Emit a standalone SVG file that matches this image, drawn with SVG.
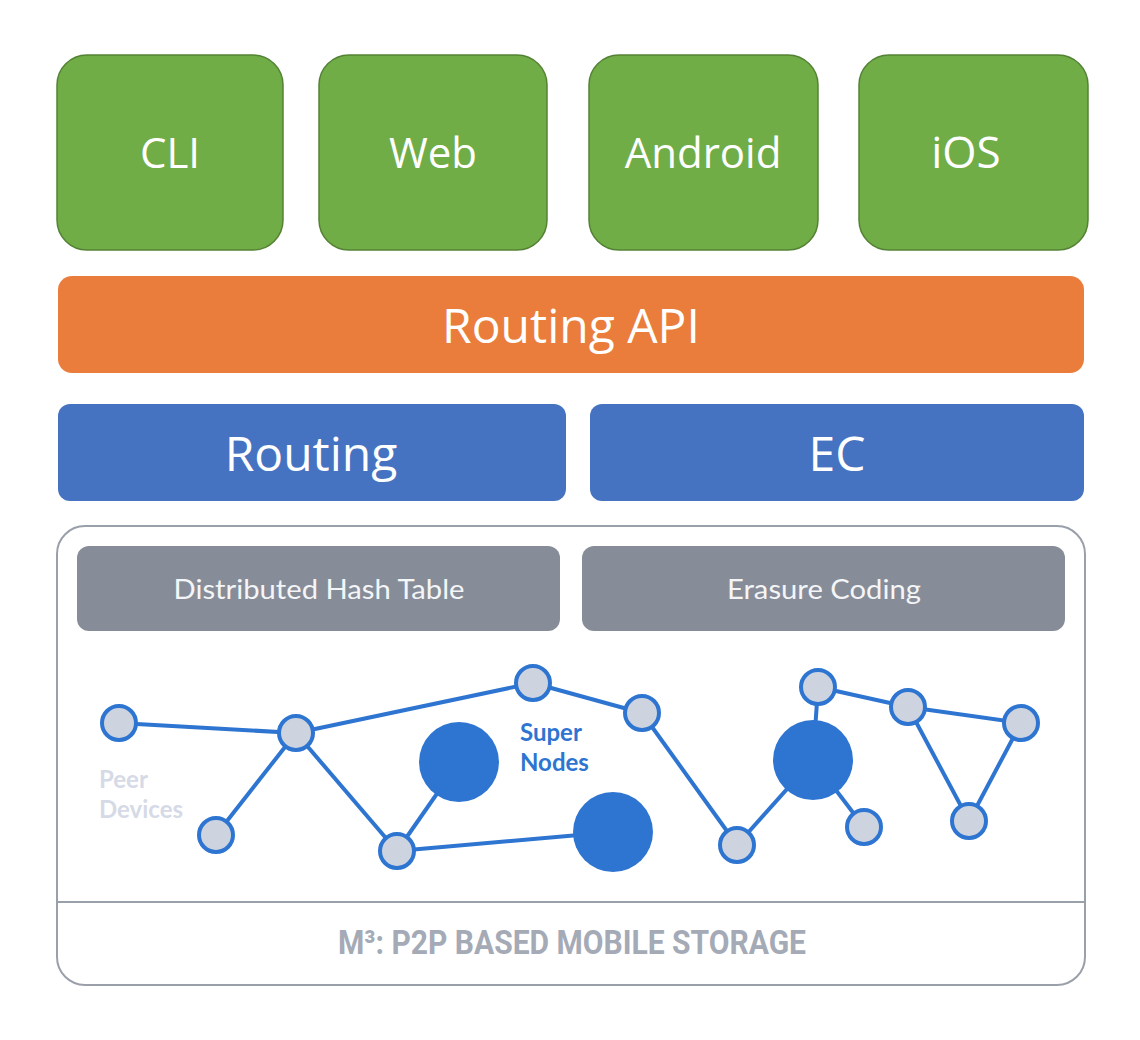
<svg xmlns="http://www.w3.org/2000/svg" width="1140" height="1040" viewBox="0 0 1140 1040">
<style>
.app{fill:#70AD47;stroke:#548235;stroke-width:1.5}
.big{font-family:"Open Sans","Noto Sans",sans-serif;fill:#fff;text-anchor:middle}
.gray{fill:#878D98}
.gt{font-family:"Lato","Noto Sans",sans-serif;font-size:27px;fill:#F4F5F7;text-anchor:middle}
.edge{stroke:#2E75D1;stroke-width:4;fill:none}
.peer{fill:#CED4DF;stroke:#2E75D1;stroke-width:4}
.sup{fill:#2E75D1}
.foot{font-family:Roboto,sans-serif;font-weight:bold;fill:#A4AAB6}
</style>
<rect width="1140" height="1040" fill="#fff"/>
<g id="cli"><rect class="app" x="57" y="55" width="226" height="195" rx="30"/><text class="big" x="170" y="168" font-size="42">CLI</text></g>
<g id="web"><rect class="app" x="319" y="55" width="228" height="195" rx="30"/><text class="big" x="433" y="168" font-size="42">Web</text></g>
<g id="android"><rect class="app" x="589" y="55" width="229" height="195" rx="30"/><text class="big" x="703" y="168" font-size="42">Android</text></g>
<g id="ios"><rect class="app" x="859" y="55" width="229" height="195" rx="30"/><text class="big" x="966" y="168" font-size="44">iOS</text></g>
<g id="routing-api"><rect x="58" y="276" width="1026" height="97" rx="14" fill="#EA7D3C"/><text class="big" x="571" y="343" font-size="48">Routing API</text></g>
<g id="routing"><rect x="58" y="404" width="508" height="97" rx="12" fill="#4673C1"/><text class="big" x="311" y="471" font-size="48">Routing</text></g>
<g id="ec"><rect x="590" y="404" width="494" height="97" rx="12" fill="#4673C1"/><text class="big" x="837" y="471" font-size="48">EC</text></g>
<g id="storage">
<rect x="57" y="526" width="1028" height="459" rx="28" fill="#fff" stroke="#9AA0AA" stroke-width="2"/>
<line x1="57" y1="902" x2="1085" y2="902" stroke="#9AA0AA" stroke-width="2"/>
<text class="foot" x="338" y="954" font-size="34" textLength="468" lengthAdjust="spacingAndGlyphs">M³: P2P BASED MOBILE STORAGE</text>
</g>
<g id="dht"><rect class="gray" x="77" y="546" width="483" height="85" rx="12"/><text class="gt" x="319" y="599" textLength="291" lengthAdjust="spacingAndGlyphs">Distributed Hash Table</text></g>
<g id="erasure"><rect class="gray" x="582" y="546" width="483" height="85" rx="12"/><text class="gt" x="824" y="599" textLength="194" lengthAdjust="spacingAndGlyphs">Erasure Coding</text></g>
<g id="connectors">
<line class="edge" x1="119" y1="723" x2="296" y2="733"/>
<line class="edge" x1="296" y1="733" x2="533" y2="683"/>
<line class="edge" x1="296" y1="733" x2="216" y2="835"/>
<line class="edge" x1="296" y1="733" x2="397" y2="851"/>
<line class="edge" x1="397" y1="851" x2="459" y2="762"/>
<line class="edge" x1="397" y1="851" x2="613" y2="832"/>
<line class="edge" x1="533" y1="683" x2="642" y2="713"/>
<line class="edge" x1="642" y1="713" x2="737" y2="845"/>
<line class="edge" x1="737" y1="845" x2="813" y2="760"/>
<line class="edge" x1="813" y1="760" x2="818" y2="687"/>
<line class="edge" x1="813" y1="760" x2="864" y2="827"/>
<line class="edge" x1="818" y1="687" x2="908" y2="707"/>
<line class="edge" x1="908" y1="707" x2="1021" y2="723"/>
<line class="edge" x1="908" y1="707" x2="969" y2="821"/>
<line class="edge" x1="1021" y1="723" x2="969" y2="821"/>
</g>
<g id="super-nodes">
<circle class="sup" cx="459" cy="762" r="40"/>
<circle class="sup" cx="613" cy="832" r="40"/>
<circle class="sup" cx="813" cy="760" r="40"/>
</g>
<g id="peer-nodes">
<circle class="peer" cx="119" cy="723" r="17"/>
<circle class="peer" cx="296" cy="733" r="17"/>
<circle class="peer" cx="533" cy="683" r="17"/>
<circle class="peer" cx="216" cy="835" r="17"/>
<circle class="peer" cx="397" cy="851" r="17"/>
<circle class="peer" cx="642" cy="713" r="17"/>
<circle class="peer" cx="737" cy="845" r="17"/>
<circle class="peer" cx="818" cy="687" r="17"/>
<circle class="peer" cx="864" cy="827" r="17"/>
<circle class="peer" cx="908" cy="707" r="17"/>
<circle class="peer" cx="1021" cy="723" r="17"/>
<circle class="peer" cx="969" cy="821" r="17"/>
</g>
<g id="labels" font-family="Lato,'Noto Sans',sans-serif" font-size="24" font-weight="bold">
<text x="520" y="741" fill="#2E75D1">Super</text>
<text x="520" y="771" fill="#2E75D1">Nodes</text>
<text x="99" y="788" fill="#D5DAE6">Peer</text>
<text x="99" y="818" fill="#D5DAE6">Devices</text>
</g>
</svg>
